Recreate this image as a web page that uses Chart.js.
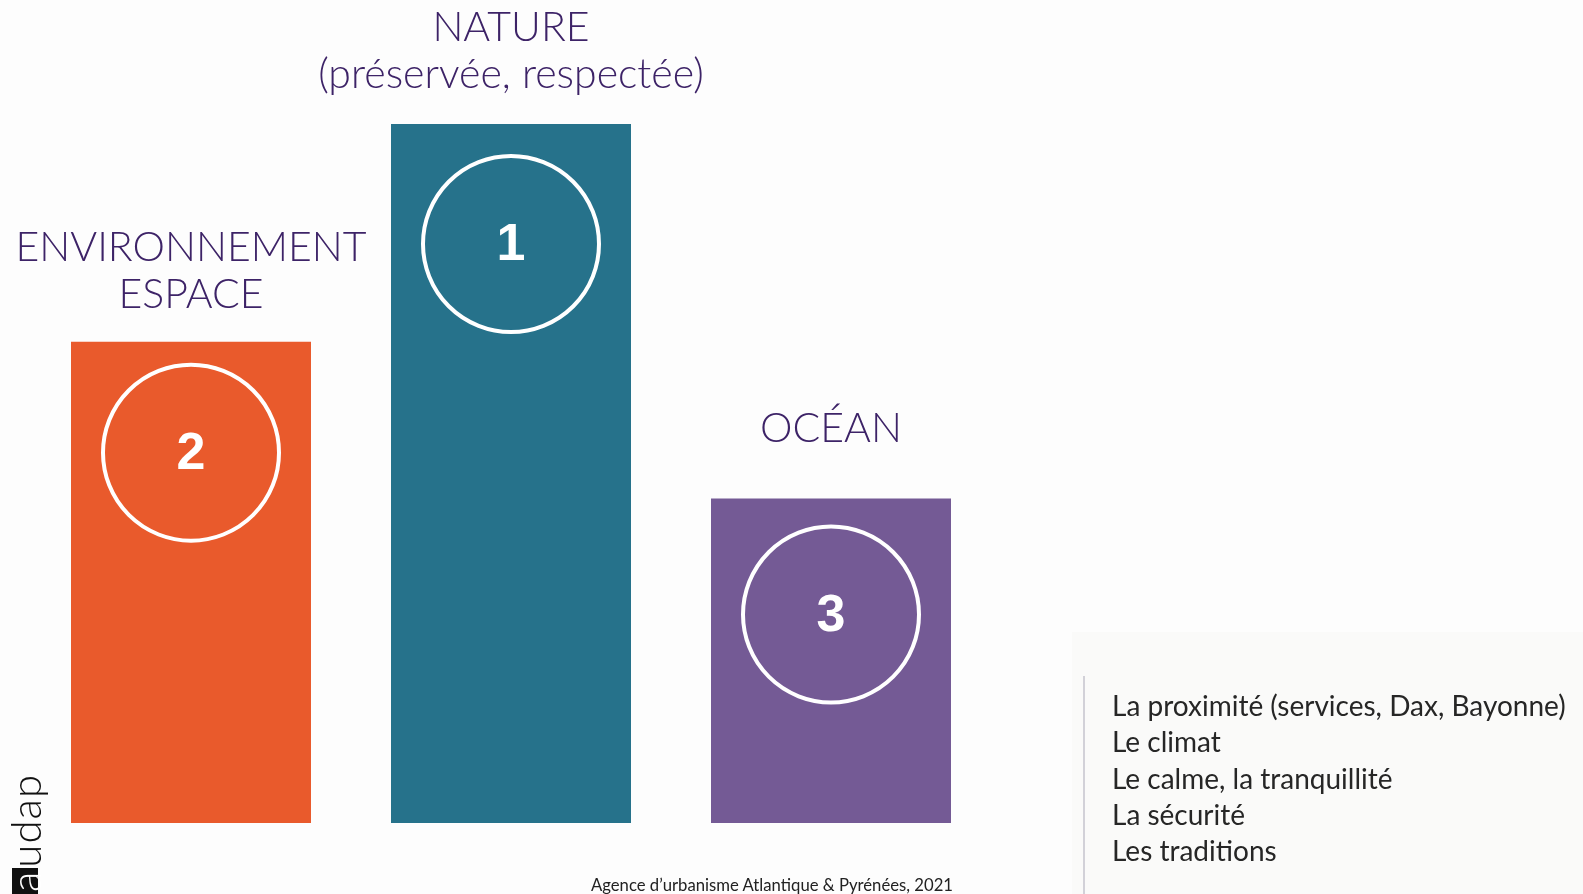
<!DOCTYPE html>
<html lang="fr">
<head>
<meta charset="utf-8">
<title>Atouts du territoire</title>
<script src="https://cdn.jsdelivr.net/npm/chart.js@4/dist/chart.umd.min.js"></script>
<style>
  html, body { margin: 0; padding: 0; background: #fdfdfd; }
  #wrap { position: relative; width: 1583px; height: 894px; overflow: hidden; }
  #chart { position: absolute; left: 0; top: 0; }
  .panel { position: absolute; left: 1072px; top: 632px; width: 511px; height: 262px; background: #fafaf9; }
  .rule { position: absolute; left: 1083px; top: 676px; width: 2px; height: 218px; background: #d2d1d8; }
  .list { position: absolute; left: 1112px; top: 687px; margin: 0; padding: 0; list-style: none;
          font-family: Lato, sans-serif; font-size: 28px; line-height: 36.3px; color: #262626; }
  .source { position: absolute; left: 0; width: 1544px; top: 875px; text-align: center;
            font-family: Lato, sans-serif; font-size: 16.7px; color: #222; }
  .logo { position: absolute; left: 12px; top: 895px; transform-origin: 0 0; transform: rotate(-90deg);
          font-family: Lato, sans-serif; font-weight: 300; font-size: 42px; line-height: 26px; color: #111;
          letter-spacing: 1px; white-space: nowrap; }
  .logo b { font-weight: 300; background: #111; color: #fff; display: inline-block; padding: 0 3px; }
</style>
</head>
<body>
<div id="wrap">
  <div class="panel"></div>
  <canvas id="chart" width="1583" height="894"></canvas>
  <div class="rule"></div>
  <ul class="list" id="others"></ul>
  <div class="source">Agence d’urbanisme Atlantique &amp; Pyrénées, 2021</div>
  <div class="logo"><b>a</b>udap</div>
</div>
<script>
var themes = [["ENVIRONNEMENT", "ESPACE"], ["NATURE", "(préservée, respectée)"], ["OCÉAN"]];
var scores = [48.2, 70, 32.5];
var barColors = ["#e95a2c", "#26728b", "#745a95"];
var others = ["La proximité (services, Dax, Bayonne)", "Le climat", "Le calme, la tranquillité", "La sécurité", "Les traditions"];

// rank of each theme, 1 = most cited
var ranks = scores.map(function (v) {
    return 1 + scores.filter(function (w) { return w > v; }).length;
});

var list = document.getElementById("others");
others.forEach(function (t) {
    var li = document.createElement("li");
    li.textContent = t;
    list.appendChild(li);
});

// distance from bar top to the theme label and to the rank badge
var labelGap = [47, 49, 70];
var badgeDrop = [111, 120, 116];

var badges = {
    id: "badges",
    afterDatasetsDraw: function (chart) {
        var c = chart.ctx;
        var bars = chart.getDatasetMeta(0).data;
        c.save();
        bars.forEach(function (bar, i) {
            var cy = bar.y + badgeDrop[i];
            c.beginPath();
            c.arc(bar.x, cy, 88, 0, Math.PI * 2);
            c.lineWidth = 4;
            c.strokeStyle = "#ffffff";
            c.stroke();

            c.fillStyle = "#ffffff";
            c.font = "bold 52px 'Liberation Sans', sans-serif";
            c.textAlign = "center";
            c.textBaseline = "middle";
            c.fillText(String(ranks[i]), bar.x, cy + 2);

            // theme name stacked above the bar
            c.fillStyle = "#3d2367";
            c.font = "300 41px Lato, sans-serif";
            var lines = themes[i];
            for (var k = 0; k < lines.length; k++) {
                var y = bar.y - labelGap[i] - (lines.length - 1 - k) * 47;
                c.fillText(lines[k], bar.x, y);
            }
        });
        c.restore();
    }
};

new Chart(document.getElementById("chart"), {
    type: "bar",
    data: {
        labels: themes.map(function (t) { return t.join(" "); }),
        datasets: [{
            data: scores,
            backgroundColor: barColors,
            borderWidth: 0,
            barPercentage: 0.75,
            categoryPercentage: 1.0
        }]
    },
    options: {
        responsive: false,
        animation: false,
        layout: { padding: { left: 31, right: 592, top: 124, bottom: 71 } },
        plugins: { legend: { display: false }, tooltip: { enabled: false } },
        scales: {
            x: { display: false },
            y: { display: false, min: 0, max: 70 }
        }
    },
    plugins: [badges]
});
</script>
</body>
</html>
